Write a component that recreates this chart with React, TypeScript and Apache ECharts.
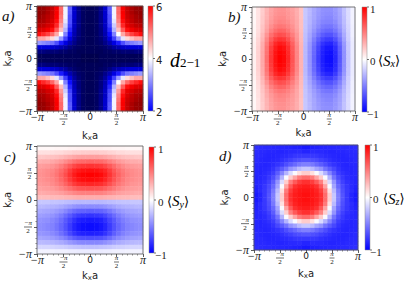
import React, { useEffect, useRef } from 'react';
import * as echarts from 'echarts';

// cell centres in units of pi (24 x 24 cells over [-pi, pi])
const kCells = ['-23/24', '-21/24', '-19/24', '-17/24', '-15/24', '-13/24', '-11/24', '-9/24', '-7/24', '-5/24', '-3/24', '-1/24',
  '1/24', '3/24', '5/24', '7/24', '9/24', '11/24', '13/24', '15/24', '17/24', '19/24', '21/24', '23/24'];
// axis ticks in units of pi/2
const kTicks = [-2, -1, 0, 1, 2];
const kTickLabels = ['−π', '−π/2', '0', 'π/2', 'π'];

// colour-bar tick labels (top, middle, bottom)
const dBarLabels = ['6', '4', '2'];
const sBarLabels = ['1', '0', '−1'];
const dRange = [0, 8];
const sRange = [-1, 1];

// d_{2-1}: one quadrant, rows = |ky| level (centre -> edge), columns = |kx| level (centre -> edge)
const dQuadrant = [
  [0.2, 0.2, 0.3, 0.3, 0.3, 0.3, 0.3, 0.3, 0.3, 0.3, 0.3, 0.3],
  [0.3, 0.3, 0.3, 0.4, 0.4, 0.5, 0.5, 0.6, 0.6, 0.6, 0.7, 0.7],
  [0.3, 0.3, 0.4, 0.5, 0.7, 1.0, 1.2, 1.4, 1.5, 1.6, 1.6, 1.6],
  [0.3, 0.4, 0.5, 0.8, 1.2, 1.7, 2.2, 2.6, 2.9, 3.0, 3.1, 3.2],
  [0.3, 0.4, 0.6, 1.0, 1.7, 2.5, 3.2, 3.8, 4.3, 4.5, 4.7, 4.7],
  [0.3, 0.4, 0.7, 1.2, 2.1, 3.0, 4.0, 4.7, 5.2, 5.5, 5.7, 5.9],
  [0.3, 0.4, 0.7, 1.3, 2.3, 3.4, 4.5, 5.3, 5.9, 6.2, 6.5, 6.6],
  [0.3, 0.4, 0.8, 1.4, 2.5, 3.6, 4.8, 5.7, 6.4, 6.7, 7.0, 7.1],
  [0.3, 0.4, 0.8, 1.4, 2.6, 3.8, 5.0, 5.9, 6.6, 7.0, 7.3, 7.4],
  [0.3, 0.4, 0.8, 1.5, 2.6, 3.9, 5.1, 6.0, 6.8, 7.1, 7.4, 7.6],
  [0.3, 0.4, 0.8, 1.5, 2.7, 3.9, 5.2, 6.1, 6.9, 7.3, 7.6, 7.7],
  [0.3, 0.4, 0.8, 1.5, 2.7, 3.9, 5.2, 6.1, 6.9, 7.3, 7.6, 7.7],
];

// <S_x>: rows = |ky| level (centre -> edge), columns = kx from -pi to pi
const sxHalf = [
  [0.06, 0.18, 0.34, 0.56, 0.78, 0.93, 1.0, 0.97, 0.85, 0.67, 0.48, 0.3, -0.28, -0.42, -0.6, -0.76, -0.88, -0.94, -0.95, -0.85, -0.66, -0.43, -0.22, -0.08],
  [0.06, 0.18, 0.34, 0.55, 0.77, 0.92, 0.99, 0.96, 0.84, 0.66, 0.48, 0.3, -0.28, -0.42, -0.59, -0.75, -0.87, -0.93, -0.94, -0.84, -0.65, -0.43, -0.22, -0.08],
  [0.06, 0.18, 0.33, 0.54, 0.75, 0.89, 0.96, 0.93, 0.82, 0.65, 0.47, 0.3, -0.28, -0.41, -0.58, -0.73, -0.85, -0.91, -0.91, -0.82, -0.64, -0.42, -0.21, -0.08],
  [0.06, 0.17, 0.32, 0.51, 0.7, 0.84, 0.9, 0.87, 0.77, 0.62, 0.45, 0.29, -0.27, -0.4, -0.55, -0.69, -0.8, -0.85, -0.86, -0.77, -0.6, -0.4, -0.21, -0.08],
  [0.05, 0.16, 0.29, 0.47, 0.63, 0.75, 0.8, 0.78, 0.69, 0.57, 0.42, 0.28, -0.26, -0.37, -0.51, -0.63, -0.72, -0.77, -0.77, -0.69, -0.55, -0.36, -0.19, -0.07],
  [0.04, 0.14, 0.27, 0.42, 0.56, 0.65, 0.7, 0.68, 0.61, 0.51, 0.4, 0.27, -0.25, -0.35, -0.46, -0.56, -0.64, -0.68, -0.68, -0.61, -0.49, -0.33, -0.18, -0.06],
  [0.04, 0.13, 0.24, 0.37, 0.49, 0.57, 0.61, 0.6, 0.54, 0.46, 0.37, 0.26, -0.24, -0.32, -0.42, -0.51, -0.57, -0.6, -0.6, -0.54, -0.44, -0.3, -0.17, -0.06],
  [0.04, 0.12, 0.23, 0.34, 0.44, 0.51, 0.54, 0.53, 0.49, 0.43, 0.35, 0.25, -0.23, -0.31, -0.39, -0.46, -0.52, -0.54, -0.54, -0.49, -0.4, -0.28, -0.16, -0.06],
  [0.03, 0.12, 0.21, 0.32, 0.4, 0.46, 0.49, 0.48, 0.45, 0.4, 0.34, 0.25, -0.23, -0.29, -0.37, -0.43, -0.48, -0.49, -0.49, -0.45, -0.37, -0.26, -0.15, -0.05],
  [0.03, 0.11, 0.21, 0.3, 0.38, 0.44, 0.46, 0.46, 0.42, 0.39, 0.33, 0.24, -0.22, -0.29, -0.35, -0.41, -0.45, -0.47, -0.47, -0.42, -0.36, -0.25, -0.14, -0.05],
  [0.03, 0.11, 0.2, 0.3, 0.37, 0.42, 0.44, 0.44, 0.41, 0.38, 0.32, 0.24, -0.22, -0.28, -0.35, -0.4, -0.44, -0.45, -0.45, -0.41, -0.35, -0.24, -0.14, -0.05],
  [0.03, 0.11, 0.2, 0.29, 0.36, 0.41, 0.43, 0.43, 0.4, 0.37, 0.32, 0.24, -0.22, -0.28, -0.34, -0.39, -0.43, -0.44, -0.44, -0.4, -0.34, -0.24, -0.14, -0.05],
];

// <S_y>: rows = ky from +pi (top) to -pi (bottom), columns = |kx| level (centre -> edge)
const syHalf = [
  [0.06, 0.06, 0.06, 0.05, 0.05, 0.04, 0.04, 0.04, 0.03, 0.03, 0.03, 0.03],
  [0.2, 0.2, 0.19, 0.19, 0.17, 0.16, 0.14, 0.14, 0.13, 0.12, 0.12, 0.12],
  [0.38, 0.38, 0.37, 0.35, 0.32, 0.3, 0.27, 0.25, 0.24, 0.23, 0.22, 0.22],
  [0.6, 0.59, 0.58, 0.55, 0.5, 0.45, 0.4, 0.37, 0.34, 0.32, 0.32, 0.31],
  [0.8, 0.79, 0.77, 0.72, 0.65, 0.58, 0.51, 0.46, 0.42, 0.4, 0.39, 0.38],
  [0.94, 0.93, 0.9, 0.85, 0.76, 0.66, 0.58, 0.52, 0.47, 0.45, 0.43, 0.42],
  [1.0, 0.99, 0.96, 0.9, 0.8, 0.7, 0.61, 0.54, 0.49, 0.46, 0.44, 0.43],
  [0.96, 0.95, 0.92, 0.86, 0.77, 0.67, 0.59, 0.52, 0.47, 0.45, 0.43, 0.42],
  [0.85, 0.84, 0.82, 0.77, 0.69, 0.61, 0.54, 0.49, 0.45, 0.42, 0.41, 0.4],
  [0.68, 0.67, 0.66, 0.62, 0.57, 0.52, 0.47, 0.43, 0.4, 0.39, 0.38, 0.37],
  [0.5, 0.5, 0.49, 0.47, 0.44, 0.41, 0.38, 0.36, 0.35, 0.34, 0.33, 0.33],
  [0.32, 0.32, 0.32, 0.31, 0.3, 0.29, 0.28, 0.27, 0.27, 0.26, 0.26, 0.26],
  [-0.28, -0.28, -0.28, -0.27, -0.26, -0.25, -0.24, -0.23, -0.23, -0.22, -0.22, -0.22],
  [-0.45, -0.45, -0.44, -0.42, -0.39, -0.36, -0.33, -0.31, -0.3, -0.29, -0.28, -0.28],
  [-0.63, -0.62, -0.61, -0.58, -0.53, -0.47, -0.42, -0.39, -0.36, -0.35, -0.34, -0.33],
  [-0.8, -0.79, -0.77, -0.72, -0.65, -0.58, -0.51, -0.46, -0.42, -0.4, -0.39, -0.38],
  [-0.9, -0.89, -0.87, -0.81, -0.73, -0.65, -0.57, -0.51, -0.47, -0.44, -0.43, -0.42],
  [-0.95, -0.94, -0.91, -0.86, -0.77, -0.68, -0.6, -0.54, -0.49, -0.47, -0.45, -0.44],
  [-0.95, -0.94, -0.91, -0.86, -0.77, -0.68, -0.6, -0.54, -0.49, -0.47, -0.45, -0.44],
  [-0.88, -0.87, -0.85, -0.8, -0.72, -0.63, -0.56, -0.5, -0.46, -0.43, -0.42, -0.41],
  [-0.7, -0.69, -0.68, -0.64, -0.58, -0.51, -0.46, -0.42, -0.39, -0.37, -0.36, -0.35],
  [-0.47, -0.47, -0.46, -0.43, -0.4, -0.36, -0.33, -0.31, -0.29, -0.28, -0.27, -0.27],
  [-0.25, -0.25, -0.24, -0.23, -0.22, -0.2, -0.19, -0.18, -0.17, -0.16, -0.16, -0.16],
  [-0.08, -0.08, -0.08, -0.07, -0.07, -0.06, -0.06, -0.06, -0.05, -0.05, -0.05, -0.05],
];

// <S_z>: one quadrant, rows = |ky| level, columns = |kx| level (centre -> edge)
const szQuadrant = [
  [0.94, 0.92, 0.89, 0.81, 0.58, 0.2, -0.22, -0.5, -0.67, -0.78, -0.86, -0.9],
  [0.92, 0.91, 0.865, 0.76, 0.52, 0.12, -0.27, -0.53, -0.69, -0.78, -0.83, -0.88],
  [0.89, 0.865, 0.81, 0.65, 0.36, -0.02, -0.36, -0.59, -0.71, -0.79, -0.84, -0.87],
  [0.81, 0.76, 0.65, 0.5, 0.2, -0.14, -0.42, -0.64, -0.75, -0.81, -0.84, -0.86],
  [0.58, 0.52, 0.36, 0.2, -0.02, -0.3, -0.55, -0.7, -0.78, -0.83, -0.85, -0.86],
  [0.2, 0.12, -0.02, -0.14, -0.3, -0.48, -0.64, -0.76, -0.81, -0.84, -0.86, -0.85],
  [-0.22, -0.27, -0.36, -0.42, -0.55, -0.64, -0.72, -0.8, -0.84, -0.85, -0.86, -0.85],
  [-0.5, -0.53, -0.59, -0.64, -0.7, -0.76, -0.8, -0.83, -0.85, -0.86, -0.85, -0.85],
  [-0.67, -0.69, -0.71, -0.75, -0.78, -0.81, -0.84, -0.85, -0.86, -0.86, -0.85, -0.84],
  [-0.78, -0.78, -0.79, -0.81, -0.83, -0.84, -0.85, -0.86, -0.86, -0.85, -0.84, -0.84],
  [-0.86, -0.83, -0.84, -0.84, -0.85, -0.86, -0.86, -0.85, -0.85, -0.84, -0.84, -0.83],
  [-0.9, -0.88, -0.87, -0.86, -0.86, -0.85, -0.85, -0.85, -0.84, -0.84, -0.83, -0.82],
];

// reflect a half (centre -> edge) into a full symmetric list (edge -> centre -> edge)
const mirror = <T,>(half: T[]): T[] => [...half.slice().reverse(), ...half];

const dRows = mirror(dQuadrant.map((r) => mirror(r)));
const sxRows = mirror(sxHalf);
const syRows = syHalf.map((r) => mirror(r));
const szRows = mirror(szQuadrant.map((r) => mirror(r)));

const SERIF = '"Liberation Serif", "DejaVu Serif", serif';
const SANS = '"DejaVu Sans", sans-serif';
const INK = '#222';

const seismic = ['#00003a', '#0000ff', '#ffffff', '#ff0000', '#800000'];
const bwr = ['#0000ff', '#ffffff', '#ff0000'];

const toData = (rows: number[][]) =>
  rows.flatMap((row, r) => row.map((v, c) => [c, rows.length - 1 - r, v]));

const tickRich: any = {
  p: { fontFamily: SERIF, fontStyle: 'italic', fontSize: 12, lineHeight: 10, color: INK },
  z: { fontFamily: SANS, fontSize: 9, lineHeight: 10, color: INK },
  n1: { fontFamily: SERIF, fontStyle: 'italic', fontSize: 7, lineHeight: 6, width: 8, align: 'center', color: INK },
  b1: { width: 8, height: 0.7, lineHeight: 2, fontSize: 1, backgroundColor: '#333' },
  d1: { fontFamily: SERIF, fontSize: 7, lineHeight: 6, width: 8, align: 'center', color: INK },
  n2: { fontFamily: SERIF, fontStyle: 'italic', fontSize: 7, lineHeight: 6, width: 5, align: 'center', color: INK },
  b2: { width: 5, height: 0.7, lineHeight: 2, fontSize: 1, backgroundColor: '#333' },
  d2: { fontFamily: SERIF, fontSize: 7, lineHeight: 6, width: 5, align: 'center', color: INK },
};

const tickText = (v: number) => {
  const t = kTickLabels[kTicks.indexOf(Math.round(v))];
  if (t === undefined) return '';
  if (t === '0') return '{z|0}';
  if (!t.includes('/')) return `{p|${t}}`;
  const [num, den] = t.split('/');
  const k = num.length > 1 ? '1' : '2';
  return `{n${k}|${num}}\n{b${k}| }\n{d${k}|${den}}`;
};

const nameRich: any = {
  k: { fontFamily: SANS, fontSize: 10, lineHeight: 12, color: INK },
  s: { fontFamily: SANS, fontSize: 7, lineHeight: 6, verticalAlign: 'bottom', color: INK },
};

const panels = [
  { rows: dRows, range: dRange, colors: seismic, grid: { left: 37, top: 6, width: 106, height: 105 }, xGap: 18, yGap: 23 },
  { rows: sxRows, range: sRange, colors: bwr, grid: { left: 252, top: 7, width: 103, height: 104 }, xGap: 11, yGap: 23 },
  { rows: syRows, range: sRange, colors: bwr, grid: { left: 37, top: 146, width: 106, height: 108 }, xGap: 8, yGap: 23 },
  { rows: szRows, range: sRange, colors: bwr, grid: { left: 254, top: 145, width: 104, height: 105 }, xGap: 17, yGap: 23 },
];

const bars = [
  { x: 148, y: 6, w: 5, h: 105, labels: dBarLabels, font: `10px ${SANS}`, lx: 156, title: '{d|d}{t|2−1}', tx: 170 },
  { x: 362, y: 7, w: 5, h: 105, labels: sBarLabels, font: `11px ${SERIF}`, lx: 370, title: '{a|⟨}{S|S}{s|x}{a|⟩}', tx: 378 },
  { x: 149, y: 147, w: 5, h: 106, labels: sBarLabels, font: `11px ${SERIF}`, lx: 158, title: '{a|⟨}{S|S}{s|y}{a|⟩}', tx: 167 },
  { x: 365, y: 145, w: 5, h: 105, labels: sBarLabels, font: `11px ${SERIF}`, lx: 373, title: '{a|⟨}{S|S}{s|z}{a|⟩}', tx: 383 },
];
const barStops = ['#ff0000', '#ffffff', '#0000ff'];

const panelTags = [
  { text: 'a)', x: 2, y: 16 },
  { text: 'b)', x: 228, y: 17 },
  { text: 'c)', x: 4, y: 157 },
  { text: 'd)', x: 219, y: 156 },
];

const titleRich: any = {
  d: { fontFamily: SERIF, fontStyle: 'italic', fontSize: 20, lineHeight: 18, color: '#555' },
  t: { fontFamily: SERIF, fontSize: 13, lineHeight: 10, verticalAlign: 'bottom', color: '#555' },
  a: { fontFamily: '"DejaVu Serif", serif', fontSize: 13, lineHeight: 16, color: '#333' },
  S: { fontFamily: SERIF, fontStyle: 'italic', fontSize: 15, lineHeight: 16, color: '#333' },
  s: { fontFamily: SERIF, fontStyle: 'italic', fontSize: 10, lineHeight: 10, verticalAlign: 'bottom', color: '#333' },
};

function buildOption() {
  const grid: any[] = [];
  const xAxis: any[] = [];
  const yAxis: any[] = [];
  const series: any[] = [];
  const visualMap: any[] = [];

  panels.forEach((p, g) => {
    grid.push({
      ...p.grid,
      show: true,
      borderColor: '#555',
      borderWidth: 0.8,
      backgroundColor: 'transparent',
      z: 5,
      containLabel: false,
      outerBoundsMode: 'none',
    });
    xAxis.push({ type: 'category', gridIndex: g, data: kCells, show: false, position: 'top' });
    xAxis.push({
      type: 'value', gridIndex: g, min: -2, max: 2, interval: 1, position: 'bottom', z: 6,
      axisLine: { show: false, onZero: false },
      axisTick: { show: true, length: 3, lineStyle: { color: '#333', width: 0.8 } },
      minorTick: { show: true, splitNumber: 5, length: 1.6, lineStyle: { color: '#555', width: 0.6 } },
      splitLine: { show: false },
      axisLabel: { formatter: tickText, rich: tickRich, margin: 1 },
      name: '{k|k}{s|x}{k|a}', nameLocation: 'middle', nameGap: p.xGap,
      nameTextStyle: { rich: nameRich },
    });
    yAxis.push({ type: 'category', gridIndex: g, data: kCells, show: false, position: 'right' });
    yAxis.push({
      type: 'value', gridIndex: g, min: -2, max: 2, interval: 1, position: 'left', z: 6,
      axisLine: { show: false, onZero: false },
      axisTick: { show: true, length: 3, lineStyle: { color: '#333', width: 0.8 } },
      minorTick: { show: true, splitNumber: 5, length: 1.6, lineStyle: { color: '#555', width: 0.6 } },
      splitLine: { show: false },
      axisLabel: { formatter: tickText, rich: tickRich, margin: 5 },
      name: '{k|k}{s|y}{k|a}', nameLocation: 'middle', nameGap: p.yGap, nameRotate: 90,
      nameTextStyle: { rich: nameRich },
    });
    series.push({
      type: 'heatmap', xAxisIndex: 2 * g, yAxisIndex: 2 * g, data: toData(p.rows),
      silent: true, emphasis: { disabled: true }, progressive: 0,
    });
    visualMap.push({
      type: 'continuous', show: false, seriesIndex: g, dimension: 2,
      min: p.range[0], max: p.range[1], inRange: { color: p.colors },
    });
  });

  const graphic: any[] = [];
  bars.forEach((b) => {
    graphic.push({
      type: 'rect', shape: { x: b.x, y: b.y, width: b.w, height: b.h },
      style: {
        fill: { type: 'linear', x: 0, y: 0, x2: 0, y2: 1, colorStops: barStops.map((c, i) => ({ offset: i / (barStops.length - 1), color: c })) },
        stroke: '#888', lineWidth: 0.5,
      },
    });
    b.labels.forEach((t, i) => {
      const ty = b.y + (i * b.h) / 2;
      graphic.push({ type: 'line', shape: { x1: b.x + b.w, y1: ty, x2: b.x + b.w + 2, y2: ty }, style: { stroke: '#333', lineWidth: 0.7 } });
      graphic.push({
        type: 'text',
        style: { text: t, x: b.lx - (t.length > 1 ? 3 : 0), y: ty + 1.5, font: b.font, fill: INK, textVerticalAlign: 'middle', verticalAlign: 'middle' },
      });
    });
    graphic.push({
      type: 'text',
      style: { text: b.title, rich: titleRich, x: b.tx, y: b.y + b.h / 2 + 1, textVerticalAlign: 'middle', verticalAlign: 'middle' },
    });
  });
  panelTags.forEach((t) => {
    graphic.push({
      type: 'text',
      style: { text: t.text, x: t.x, y: t.y, font: `italic 15px ${SERIF}`, fill: '#111', textVerticalAlign: 'middle', verticalAlign: 'middle' },
    });
  });

  return { animation: false, backgroundColor: '#ffffff', grid, xAxis, yAxis, series, visualMap, graphic };
}

export default function App() {
  const ref = useRef<HTMLDivElement>(null);
  useEffect(() => {
    if (!ref.current) return;
    const chart = echarts.init(ref.current, null, { renderer: 'svg' });
    chart.setOption(buildOption() as any);
    return () => chart.dispose();
  }, []);
  return <div ref={ref} style={{ position: 'fixed', left: 0, top: 0, width: 415, height: 282 }} />;
}
